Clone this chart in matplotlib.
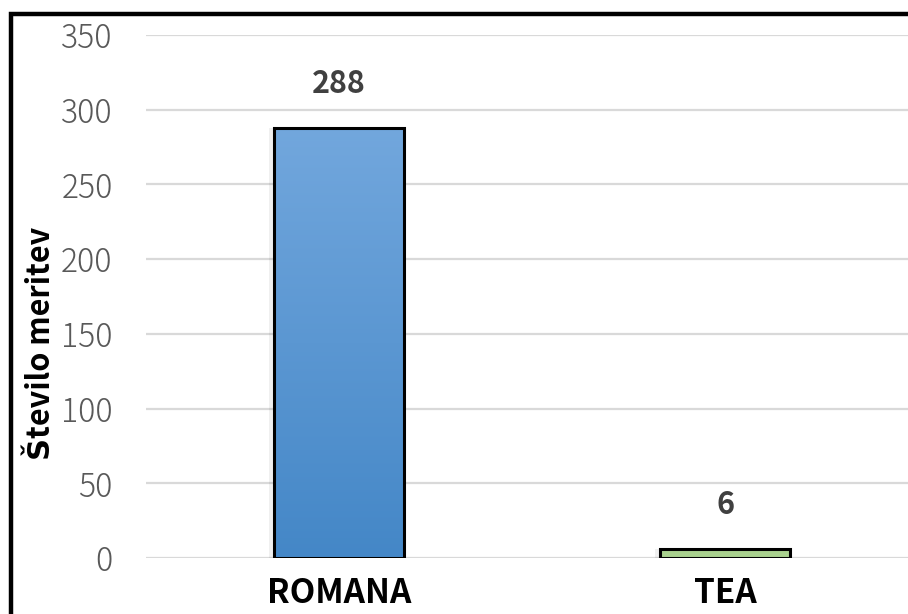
import numpy as np
import matplotlib
matplotlib.use("Agg")
import matplotlib.pyplot as plt
from matplotlib.colors import LinearSegmentedColormap
from matplotlib.patches import Rectangle

categories = ["ROMANA", "TEA"]
values = [288, 6]
yticks = [0, 50, 100, 150, 200, 250, 300, 350]
ylabel = "Število meritev"

bar_top_colors = ["#72a7dd", "#a9d18e"]
bar_bottom_colors = ["#4487c7", "#a9d18e"]

W, H = 908, 614
fig = plt.figure(figsize=(W / 100, H / 100), dpi=100)
fig.patch.set_facecolor("white")

# outer frame (runs off the right and bottom edges)
fig.patches.append(Rectangle((10.5 / W, -0.1), 1.2, 1 - 13.5 / H + 0.1,
                             transform=fig.transFigure, fill=False,
                             edgecolor="black", linewidth=3.2, zorder=10))

left, right = 146 / W, 918 / W
bottom, top = (H - 558) / H, (H - 35) / H
ax = fig.add_axes([left, bottom, right - left, top - bottom])
ax.set_xlim(-0.5, len(categories) - 0.5)
ax.set_ylim(0, 350)

for s in ax.spines.values():
    s.set_visible(False)
ax.set_yticks(yticks)
ax.yaxis.grid(True, color="#d9d9d9", linewidth=1.6)
ax.set_axisbelow(True)
ax.tick_params(axis="y", length=0, pad=24, labelsize=23, labelcolor="#595959")
ax.tick_params(axis="x", length=0, pad=14)
for lab in ax.get_yticklabels():
    lab.set_fontfamily(["Noto Sans CJK JP", "DejaVu Sans"])
    lab.set_fontweight("light")

x = np.arange(len(categories))
ax.set_xticks(x)
ax.set_xticklabels(categories, fontsize=24, fontweight="bold",
                   family=["Noto Sans CJK JP", "DejaVu Sans"], color="black")

bw = 0.337
bars = ax.bar(x, values, width=bw, facecolor="none", edgecolor="black",
              linewidth=2.2, zorder=3)

# gradient fill inside each bar
for b, ct, cb in zip(bars, bar_top_colors, bar_bottom_colors):
    cmap = LinearSegmentedColormap.from_list("g", [cb, ct])
    grad = np.linspace(0, 1, 256).reshape(-1, 1)
    x0, y0 = b.get_x(), b.get_y()
    im = ax.imshow(grad, cmap=cmap, origin="lower", aspect="auto",
                   extent=[x0, x0 + b.get_width(), y0, y0 + b.get_height()],
                   zorder=2)
    im.set_clip_path(b)
    # faint shadow on the left side
    ax.add_patch(Rectangle((x0 - 0.012, y0), 0.012, b.get_height(),
                           facecolor="#000000", alpha=0.06, linewidth=0, zorder=1))

for xi, v in zip(x, values):
    ax.annotate(str(v), (xi, v), xytext=(0, 20), textcoords="offset points",
                ha="center", va="bottom", fontsize=22, fontweight="bold",
                color="#404040", family=["Noto Sans CJK JP", "DejaVu Sans"])

ax.set_ylim(0, 350)
ax.set_xlim(-0.5, len(categories) - 0.5)

fig.text(41 / W, 1 - 343 / H, ylabel, rotation=90, ha="center", va="center",
         fontsize=22, fontweight="bold", color="black",
         family=["Noto Sans CJK JP", "DejaVu Sans"])

fig.savefig("out.png", dpi=100, facecolor="white")
